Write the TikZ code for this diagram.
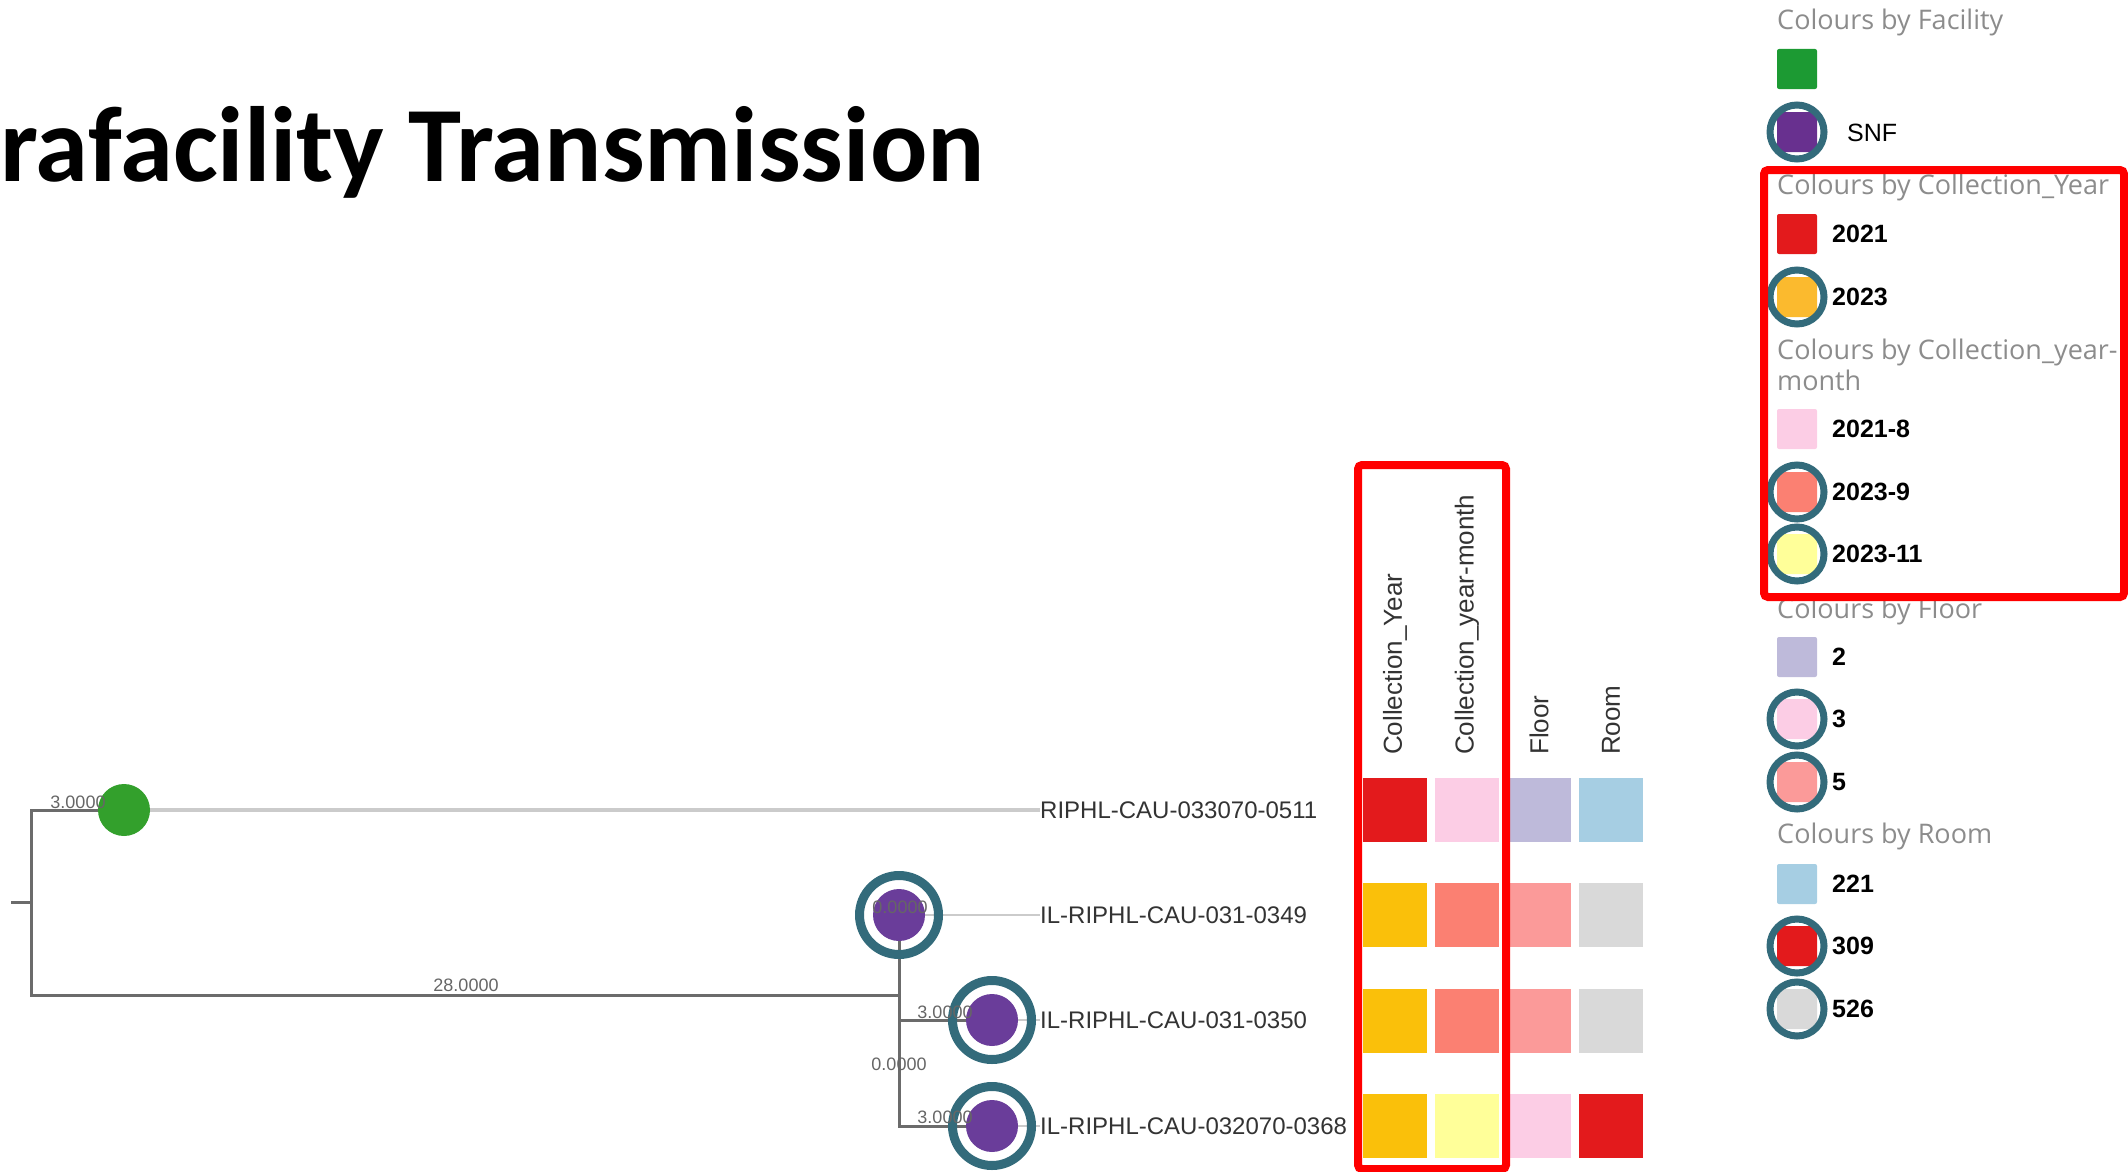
\documentclass[tikz,border=0pt]{standalone}
\usepackage{fontspec}
\usetikzlibrary{backgrounds}
\newfontfamily\titlefont{Carlito}
\newfontfamily\labfont{Liberation Sans}
\newfontfamily\legfont{Open Sans}
\definecolor{branchgray}{HTML}{6B6B6B}
\definecolor{leafgray}{HTML}{CBCBCB}
\definecolor{labgray}{HTML}{333333}
\definecolor{elgray}{HTML}{666666}
\definecolor{leggray}{HTML}{8C8C8C}
\definecolor{gnode}{HTML}{33A02C}
\definecolor{pnode}{HTML}{6A3D9A}
\definecolor{ringc}{HTML}{336B7B}
\definecolor{cred}{HTML}{E31A1C}
\definecolor{cpink}{HTML}{FCCDE5}
\definecolor{clav}{HTML}{BEBADA}
\definecolor{cblue}{HTML}{A6CEE3}
\definecolor{corange}{HTML}{FAC00A}
\definecolor{lorange}{HTML}{FBBA2E}
\definecolor{csalmon}{HTML}{FB8072}
\definecolor{clsalmon}{HTML}{FB9A99}
\definecolor{cgray}{HTML}{D9D9D9}
\definecolor{cyellow}{HTML}{FFFF99}
\definecolor{lgreen}{HTML}{1C9A33}
\definecolor{lpurple}{HTML}{68308F}
\definecolor{boxred}{HTML}{FF0000}
\begin{document}
\begin{tikzpicture}[x=1pt,y=-1pt,
  branch/.style={draw=branchgray, line width=3pt},
  leafline/.style={draw=leafgray, line width=2pt},
  leafthick/.style={draw=leafgray, line width=3.5pt},
  tip/.style={font=\labfont\fontsize{24}{24}\selectfont, text=labgray, anchor=west, inner sep=0pt},
  elabel/.style={font=\labfont\fontsize{18}{18}\selectfont, text=elgray, inner sep=0pt},
  fnode/.style={circle, minimum size=52pt, inner sep=0pt},
  ringline/.style={draw=ringc, line width=9pt},
  cell/.style={rectangle, minimum width=64pt, minimum height=64pt, inner sep=0pt},
  colhead/.style={font=\labfont\fontsize{26}{26}\selectfont, text=labgray, rotate=90, anchor=west, inner sep=0pt},
  redbox/.style={draw=boxred, line width=8pt, rounded corners=4pt},
  ltitle/.style={font=\legfont\fontsize{27}{31}\selectfont, text=leggray, inner sep=0pt},
  litem/.style={font=\labfont\bfseries\fontsize{25}{25}\selectfont, text=black, anchor=west, inner sep=0pt},
  lsq/.style={rectangle, minimum width=40pt, minimum height=40pt, inner sep=0pt, rounded corners=2pt},
  lring/.style={draw=ringc, line width=7pt}
]
\useasboundingbox (0,0) rectangle (2128,1172);

% title
\node[font=\titlefont\bfseries\fontsize{107}{112}\selectfont, anchor=base west, inner sep=0pt] (title) at (0,181) {rafacility Transmission};

% tree nodes
\coordinate (rt) at (11,902);
\coordinate (r) at (31,902);
\coordinate (i1) at (899,995);
\node[fnode, fill=gnode] (g) at (124,810) {};
\node[fnode, fill=pnode] (p1) at (899,915) {};
\node[fnode, fill=pnode] (p2) at (992,1020) {};
\node[fnode, fill=pnode] (p3) at (992,1126) {};
\draw[ringline] (p1) circle[radius=39.5];
\draw[ringline] (p2) circle[radius=39.5];
\draw[ringline] (p3) circle[radius=39.5];

\node[tip] (L1) at (1040,810) {RIPHL-CAU-033070-0511};
\node[tip] (L2) at (1040,915) {IL-RIPHL-CAU-031-0349};
\node[tip] (L3) at (1040,1020) {IL-RIPHL-CAU-031-0350};
\node[tip] (L4) at (1040,1126) {IL-RIPHL-CAU-032070-0368};

\begin{scope}[on background layer]
\draw[branch] (rt) -- (r);
\draw[branch] (r) |- (g.center);
\draw[leafthick] (g.center) -- (L1.west);
\draw[branch] (r) |- (i1);
\draw[branch] (p1.center) |- (p3.center);
\draw[branch] (p1 |- p2) -- (p2.center);
\draw[leafline] (p1.center) -- (L2.west);
\draw[leafline] (p2.center) -- (L3.west);
\draw[leafline] (p3.center) -- (L4.west);
\end{scope}

% edge labels
\node[elabel] (e1) at (78,802) {3.0000};
\node[elabel] (e2) at (466,985) {28.0000};
\node[elabel] (e3) at (900,907) {0.0000};
\node[elabel] (e4) at (945,1012) {3.0000};
\node[elabel] (e5) at (899,1064) {0.0000};
\node[elabel] (e6) at (945,1117) {3.0000};

% heatmap
\node[cell, fill=cred] (c11) at (1395,810) {};
\node[cell, fill=cpink] (c12) at (1467,810) {};
\node[cell, fill=clav] (c13) at (1539,810) {};
\node[cell, fill=cblue] (c14) at (1611,810) {};
\node[cell, fill=corange] (c21) at (1395,915) {};
\node[cell, fill=csalmon] (c22) at (1467,915) {};
\node[cell, fill=clsalmon] (c23) at (1539,915) {};
\node[cell, fill=cgray] (c24) at (1611,915) {};
\node[cell, fill=corange] (c31) at (1395,1021) {};
\node[cell, fill=csalmon] (c32) at (1467,1021) {};
\node[cell, fill=clsalmon] (c33) at (1539,1021) {};
\node[cell, fill=cgray] (c34) at (1611,1021) {};
\node[cell, fill=corange] (c41) at (1395,1126) {};
\node[cell, fill=cyellow] (c42) at (1467,1126) {};
\node[cell, fill=cpink] (c43) at (1539,1126) {};
\node[cell, fill=cred] (c44) at (1611,1126) {};

\node[colhead] (h1) at (1395,755) {Collection\_Year};
\node[colhead] (h2) at (1467,755) {Collection\_year-month};
\node[colhead] (h3) at (1539,755) {Floor};
\node[colhead] (h4) at (1611,755) {Room};

\draw[redbox] (1358,465) rectangle (1506,1169);

% legend
\node[ltitle, anchor=west] (t1) at (1777,22) {Colours by Facility};
\node[lsq, fill=lgreen] (s1) at (1797,69) {};
\node[lsq, fill=lpurple] (s2) at (1797,132) {};
\draw[lring] (s2) circle[radius=27];
\node[font=\labfont\fontsize{25}{25}\selectfont, anchor=west, inner sep=0pt] (snf) at (1847,133) {SNF};

\node[ltitle, anchor=west] (t2) at (1777,187) {Colours by Collection\_Year};
\node[lsq, fill=cred] (s3) at (1797,234) {};
\node[litem] (x3) at (1832,234) {2021};
\node[lsq, fill=lorange] (s4) at (1797,297) {};
\draw[lring] (s4) circle[radius=27];
\node[litem] (x4) at (1832,297) {2023};

\node[ltitle, anchor=north west, align=left] (t3) at (1777,339) {Colours by Collection\_year-\\month};
\node[lsq, fill=cpink] (s5) at (1797,429) {};
\node[litem] (x5) at (1832,429) {2021-8};
\node[lsq, fill=csalmon] (s6) at (1797,492) {};
\draw[lring] (s6) circle[radius=27];
\node[litem] (x6) at (1832,492) {2023-9};
\node[lsq, fill=cyellow] (s7) at (1797,554) {};
\draw[lring] (s7) circle[radius=27];
\node[litem] (x7) at (1832,554) {2023-11};

\node[ltitle, anchor=west] (t4) at (1777,611) {Colours by Floor};
\node[lsq, fill=clav] (s8) at (1797,657) {};
\node[litem] (x8) at (1832,657) {2};
\node[lsq, fill=cpink] (s9) at (1797,719) {};
\draw[lring] (s9) circle[radius=27];
\node[litem] (x9) at (1832,719) {3};
\node[lsq, fill=clsalmon] (s10) at (1797,782) {};
\draw[lring] (s10) circle[radius=27];
\node[litem] (x10) at (1832,782) {5};

\node[ltitle, anchor=west] (t5) at (1777,836) {Colours by Room};
\node[lsq, fill=cblue] (s11) at (1797,884) {};
\node[litem] (x11) at (1832,884) {221};
\node[lsq, fill=cred] (s12) at (1797,946) {};
\draw[lring] (s12) circle[radius=27];
\node[litem] (x12) at (1832,946) {309};
\node[lsq, fill=cgray] (s13) at (1797,1009) {};
\draw[lring] (s13) circle[radius=27];
\node[litem] (x13) at (1832,1009) {526};

\draw[redbox] (1764,170) rectangle (2124,597);
\end{tikzpicture}
\end{document}
